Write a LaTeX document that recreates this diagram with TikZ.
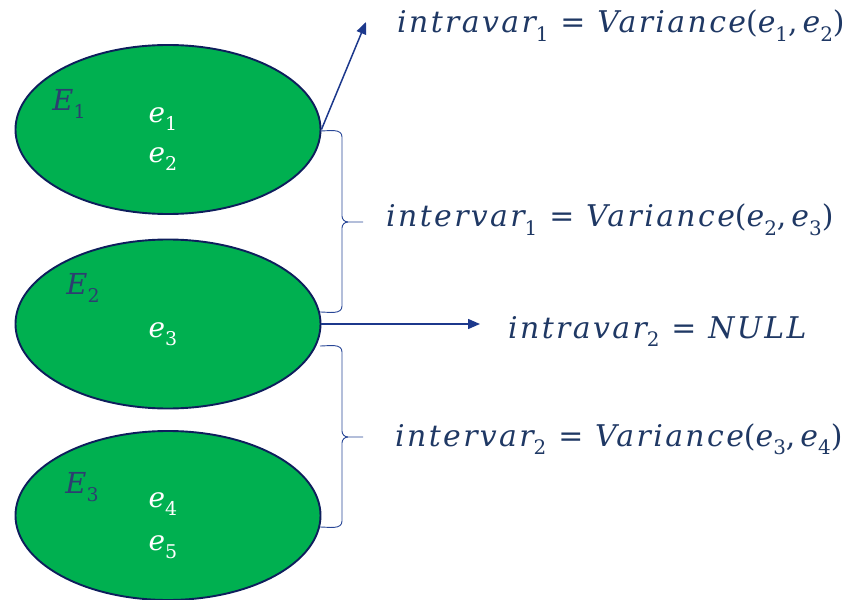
\documentclass[tikz,border=0pt]{standalone}
\usepackage{fontspec}
\setmainfont{DejaVu Serif}
\usetikzlibrary{shapes.geometric,arrows.meta}
\definecolor{grn}{RGB}{0,176,80}
\definecolor{edge}{RGB}{14,30,92}
\definecolor{txt}{RGB}{31,56,100}
\definecolor{setc}{RGB}{45,62,112}
\definecolor{arr}{RGB}{28,56,140}
\definecolor{brc}{RGB}{40,70,150}
\newcommand{\vsub}[1]{\raisebox{-0.3em}{\fontsize{19}{20}\selectfont\upshape #1}}
\newcommand{\fsub}[1]{\raisebox{-0.3em}{\fontsize{20}{21}\selectfont\upshape #1}}
\newcommand{\iv}[1]{{\itshape #1}}
\begin{document}
\begin{tikzpicture}[x=1bp,y=-1bp,
  cluster/.style={ellipse, draw=edge, line width=1.9bp, fill=grn,
    minimum width=305bp, minimum height=169bp, inner sep=0pt},
  setlbl/.style={text=setc, font=\fontsize{29}{32}\selectfont, inner sep=0pt},
  elem/.style={text=white, font=\fontsize{28}{32}\selectfont, inner sep=0pt},
  formula/.style={text=txt, font=\fontsize{30}{34}\selectfont\addfontfeature{LetterSpace=8}, inner sep=0pt, anchor=base west},
  pointer/.style={draw=arr, line width=1.5bp, -{Triangle[length=12bp,width=10bp]}},
  bracket/.style={draw=brc, line width=0.9bp}]
\useasboundingbox (0,0) rectangle (854,600);

\node[cluster] (E1) at (168,129.5) {};
\node[cluster] (E2) at (168,324) {};
\node[cluster] (E3) at (168,515.5) {};

\node[setlbl] (L1) at (69,104) {\iv{E}\vsub{1}};
\node[setlbl] (L2) at (83,288) {\iv{E}\vsub{2}};
\node[setlbl] (L3) at (82,487) {\iv{E}\vsub{3}};

\node[elem] (e1) at (163,119) {\iv{e}\vsub{1}};
\node[elem] (e2) at (163,159) {\iv{e}\vsub{2}};
\node[elem] (e3) at (163,334) {\iv{e}\vsub{3}};
\node[elem] (e4) at (163,504) {\iv{e}\vsub{4}};
\node[elem] (e5) at (163,547) {\iv{e}\vsub{5}};

\node[formula] (f1) at (397,33) {\iv{intravar}\fsub{1} = \iv{Variance}(\iv{e}\fsub{1},\,\iv{e}\fsub{2})};
\node[formula] (f2) at (386,227) {\iv{intervar}\fsub{1} = \iv{Variance}(\iv{e}\fsub{2},\,\iv{e}\fsub{3})};
\node[formula] (f3) at (508,338) {\iv{intravar}\fsub{2} = \iv{NULL}};
\node[formula] (f4) at (395,446) {\iv{intervar}\fsub{2} = \iv{Variance}(\iv{e}\fsub{3},\,\iv{e}\fsub{4})};

\coordinate (t1) at (366,22);
\coordinate (t2) at (480,324);
\draw[pointer] (E1.east) -- (t1);
\draw[pointer] (E2.east) -- (t2);

% brace between E1 and E2
\coordinate (b1a) at (320,131);
\coordinate (b1b) at (320,312);
\coordinate (b1t) at (363,222);
\draw[bracket] (b1a) to[out=0,in=90] (342,137) -- (342,216)
  to[out=-90,in=180] (348,222) -- (b1t);
\draw[bracket] (348,222) to[out=180,in=90] (342,228) -- (342,306)
  to[out=-90,in=0] (b1b);

% brace between E2 and E3
\coordinate (b2a) at (320,346);
\coordinate (b2b) at (320,527);
\coordinate (b2t) at (363,437);
\draw[bracket] (b2a) to[out=0,in=90] (342,352) -- (342,431)
  to[out=-90,in=180] (348,437) -- (b2t);
\draw[bracket] (348,437) to[out=180,in=90] (342,443) -- (342,521)
  to[out=-90,in=0] (b2b);
\end{tikzpicture}
\end{document}
